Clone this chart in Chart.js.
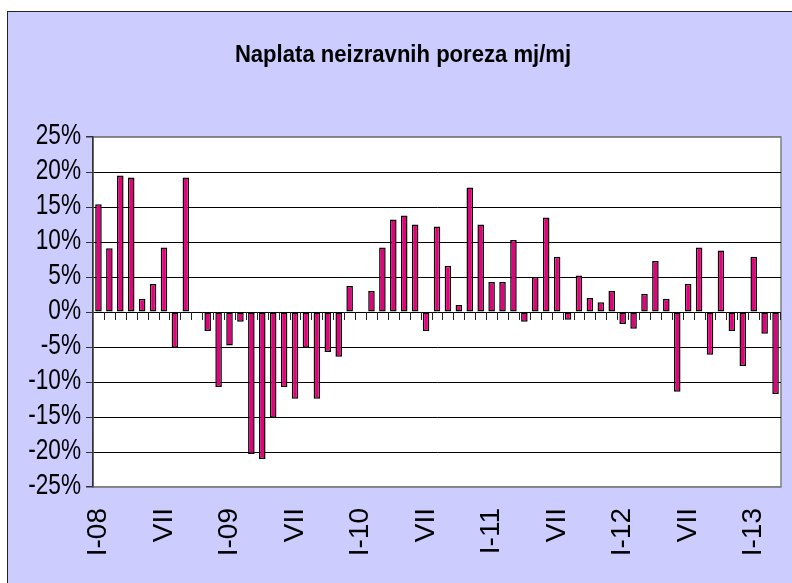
<!DOCTYPE html>
<html>
<head>
<meta charset="utf-8">
<script src="https://cdn.jsdelivr.net/npm/chart.js@4/dist/chart.umd.min.js"></script>
<style>
  html, body { margin: 0; padding: 0; background: #fff; overflow: hidden; }
  .frame {
    position: absolute; left: 7px; top: 11px; width: 800px; height: 590px;
    background: #ccccff; border-left: 1.5px solid #222; border-top: 1.5px solid #222;
  }
  #chart { position: absolute; left: 0; top: 0; }
</style>
</head>
<body>
<div class="frame"></div>
<canvas id="chart" width="792" height="583"></canvas>
<script>
const title = 'Naplata neizravnih poreza mj/mj';

// months and years used to build the category labels (I-08 ... III-13)
const months = ['I', 'II', 'III', 'IV', 'V', 'VI', 'VII', 'VIII', 'IX', 'X', 'XI', 'XII'];
const years = ['08', '09', '10', '11', '12', '13'];

// month-on-month change, %
const values = [
    15.4, 9.1, 19.5, 19.2, 1.9, 4.0, 9.2, -5.1, 19.2, null, -2.7, -10.7,
    -4.8, -1.4, -20.3, -21.0, -15.1, -10.7, -12.4, -5.1, -12.4, -5.7, -6.4, 3.7,
    null, 3.0, 9.2, 13.2, 13.8, 12.5, -2.7, 12.2, 6.6, 1.0, 17.8, 12.5,
    4.3, 4.3, 10.3, -1.4, 5.0, 13.5, 7.9, -1.1, 5.2, 2.0, 1.4, 3.0,
    -1.7, -2.4, 2.6, 7.3, 1.9, -11.4, 4.0, 9.2, -6.1, 8.8, -2.7, -7.7,
    7.9, -3.1, -11.7
];

const yTicks = [25, 20, 15, 10, 5, 0, -5, -10, -15, -20, -25];

const categories = [];
years.forEach(yy => {
    months.forEach(m => {
        if (categories.length < values.length) categories.push(m === 'I' ? 'I-' + yy : m);
    });
});

// plot background, ticks under the zero line, y labels and title
const decor = {
    id: 'decor',
    beforeDraw(chart) {
        const { ctx, chartArea: a } = chart;
        ctx.save();
        ctx.fillStyle = '#fff';
        ctx.fillRect(a.left, a.top, a.right - a.left, a.bottom - a.top);
        ctx.strokeStyle = '#808080';
        ctx.lineWidth = 1.5;
        ctx.strokeRect(a.left, a.top, a.right - a.left, a.bottom - a.top);
        ctx.restore();
    },
    afterDatasetsDraw(chart) {
        const { ctx, scales: { x, y } } = chart;
        const y0 = y.getPixelForValue(0);
        ctx.save();
        ctx.strokeStyle = '#222';
        ctx.lineWidth = 1;
        ctx.beginPath();
        for (let i = 1; i <= categories.length; i++) {
            const px = Math.round((x.getPixelForValue(i - 1) + x.getPixelForValue(Math.min(i, categories.length - 1))) / 2);
            const xx = i === categories.length ? chart.chartArea.right - 1 : px;
            ctx.moveTo(xx + 0.5, y0);
            ctx.lineTo(xx + 0.5, y0 + 8);
        }
        ctx.stroke();
        ctx.restore();
    },
    afterDraw(chart) {
        const { ctx, scales: { y } } = chart;
        ctx.save();
        ctx.fillStyle = '#000';
        ctx.textAlign = 'right';
        ctx.textBaseline = 'middle';
        ctx.font = '29px "Liberation Sans", Arial, sans-serif';
        yTicks.forEach(v => {
            ctx.save();
            ctx.translate(81, y.getPixelForValue(v) - 1);
            ctx.scale(0.78, 1);
            ctx.fillText(v + '%', 0, 0);
            ctx.restore();
        });
        ctx.font = 'bold 24px "Liberation Sans", Arial, sans-serif';
        ctx.textAlign = 'center';
        ctx.textBaseline = 'alphabetic';
        ctx.translate(403, 62);
        ctx.scale(0.92, 1);
        ctx.fillText(title, 0, 0);
        ctx.restore();
    }
};

new Chart(document.getElementById('chart'), {
    type: 'bar',
    data: {
        labels: categories,
        datasets: [{
            data: values,
            backgroundColor: '#e6007e',
            borderColor: '#000',
            borderWidth: 1.5,
            borderSkipped: false,
            barPercentage: 0.6,
            categoryPercentage: 1
        }]
    },
    options: {
        responsive: false,
        animation: false,
        layout: { padding: { top: 137, right: 11, bottom: 0, left: 0 } },
        plugins: {
            legend: { display: false },
            tooltip: { enabled: false }
        },
        scales: {
            x: {
                grid: { display: false, drawTicks: false },
                border: { display: false },
                ticks: {
                    autoSkip: false,
                    minRotation: 90,
                    maxRotation: 90,
                    padding: 21,
                    color: '#000',
                    font: { family: '"Liberation Sans", Arial, sans-serif', size: 28 },
                    callback: (v, i) => (i % 6 === 0 ? categories[i] : '')
                },
                afterFit: s => {
                    s.height = 96;
                    s.paddingLeft = 0;
                    s.paddingRight = 0;
                }
            },
            y: {
                min: -25,
                max: 25,
                ticks: { stepSize: 5, display: false },
                grid: {
                    color: c => (Math.abs(c.tick.value) === 25 ? '#808080' : '#000'),
                    lineWidth: c => (Math.abs(c.tick.value) === 25 ? 1.5 : 1),
                    drawTicks: true,
                    tickLength: 7,
                    tickColor: '#333'
                },
                border: { display: true, color: '#333', width: 1.5 },
                afterFit: s => { s.width = 93; }
            }
        }
    },
    plugins: [decor]
});
</script>
</body>
</html>
